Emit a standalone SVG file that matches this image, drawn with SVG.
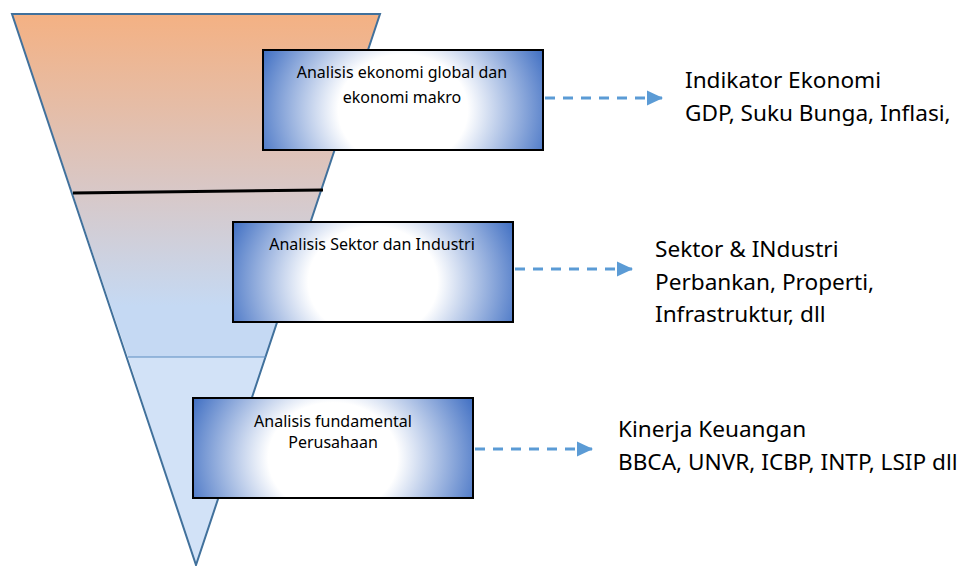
<svg xmlns="http://www.w3.org/2000/svg" width="962" height="566" viewBox="0 0 962 566">
<style>
.box{stroke:#000;stroke-width:2;fill:url(#boxg)}
.bt{font-family:"Noto Sans","Open Sans",sans-serif;font-size:16px;fill:#000;text-anchor:middle}
.rt{font-family:"Noto Sans","Open Sans",sans-serif;font-size:22.6px;fill:#000}
.conn{stroke:#5B9BD5;stroke-width:3;stroke-dasharray:10,8;fill:none}
</style>
<defs>
<linearGradient id="funnel" x1="0" y1="14" x2="0" y2="357" gradientUnits="userSpaceOnUse">
<stop offset="0" stop-color="#F4B183"/>
<stop offset="0.5" stop-color="#D9C7C5"/>
<stop offset="0.85" stop-color="#C5D9F3"/>
<stop offset="1" stop-color="#C5D9F3"/>
</linearGradient>
<radialGradient id="boxg" cx="0.5" cy="0.6" r="0.55" gradientTransform="translate(0.5 0.6) scale(1 2.4) translate(-0.5 -0.6)">
<stop offset="0" stop-color="#FFFFFF"/>
<stop offset="0.42" stop-color="#FFFFFF"/>
<stop offset="1" stop-color="#4472C4"/>
</radialGradient>
<marker id="ah" markerWidth="16" markerHeight="16" refX="15" refY="8" orient="auto" markerUnits="userSpaceOnUse">
<path d="M0,0.5 L16,8 L0,15.5 Z" fill="#5B9BD5"/>
</marker>
</defs>
<g id="funnel-shape">
<polygon points="12,14 380,14 266,357 128,357" fill="url(#funnel)"/>
<polygon points="128,357 266,357 196,565" fill="#D2E2F7"/>
<polygon points="12,14 380,14 196,565" fill="none" stroke="#41719C" stroke-width="2"/>
<line x1="73" y1="193" x2="323" y2="190" stroke="#000" stroke-width="3"/>
<line x1="128" y1="357" x2="266" y2="357" stroke="#5B8CC0" stroke-width="1"/>
</g>
<g id="node1">
<rect class="box" x="263" y="50" width="280" height="100"/>
<text class="bt" x="402" y="78">Analisis ekonomi global dan</text>
<text class="bt" x="402" y="103">ekonomi makro</text>
</g>
<g id="node2">
<rect class="box" x="233" y="222" width="280" height="100"/>
<text class="bt" x="372" y="250">Analisis Sektor dan Industri</text>
</g>
<g id="node3">
<rect class="box" x="193" y="398" width="280" height="100"/>
<text class="bt" x="333" y="427">Analisis fundamental</text>
<text class="bt" x="333" y="448">Perusahaan</text>
</g>
<g id="connectors">
<line class="conn" x1="545" y1="98" x2="662" y2="98" marker-end="url(#ah)"/>
<line class="conn" x1="515" y1="269" x2="632" y2="269" marker-end="url(#ah)"/>
<line class="conn" x1="475" y1="449" x2="592" y2="449" marker-end="url(#ah)"/>
</g>
<g id="label1">
<text class="rt" x="685" y="88">Indikator Ekonomi</text>
<text class="rt" x="685" y="121">GDP, Suku Bunga, Inflasi,</text>
</g>
<g id="label2">
<text class="rt" x="655" y="257">Sektor &amp; INdustri</text>
<text class="rt" x="655" y="290">Perbankan, Properti,</text>
<text class="rt" x="655" y="322">Infrastruktur, dll</text>
</g>
<g id="label3">
<text class="rt" x="618" y="437">Kinerja Keuangan</text>
<text class="rt" x="618" y="470">BBCA, UNVR, ICBP, INTP, LSIP dll</text>
</g>
</svg>
